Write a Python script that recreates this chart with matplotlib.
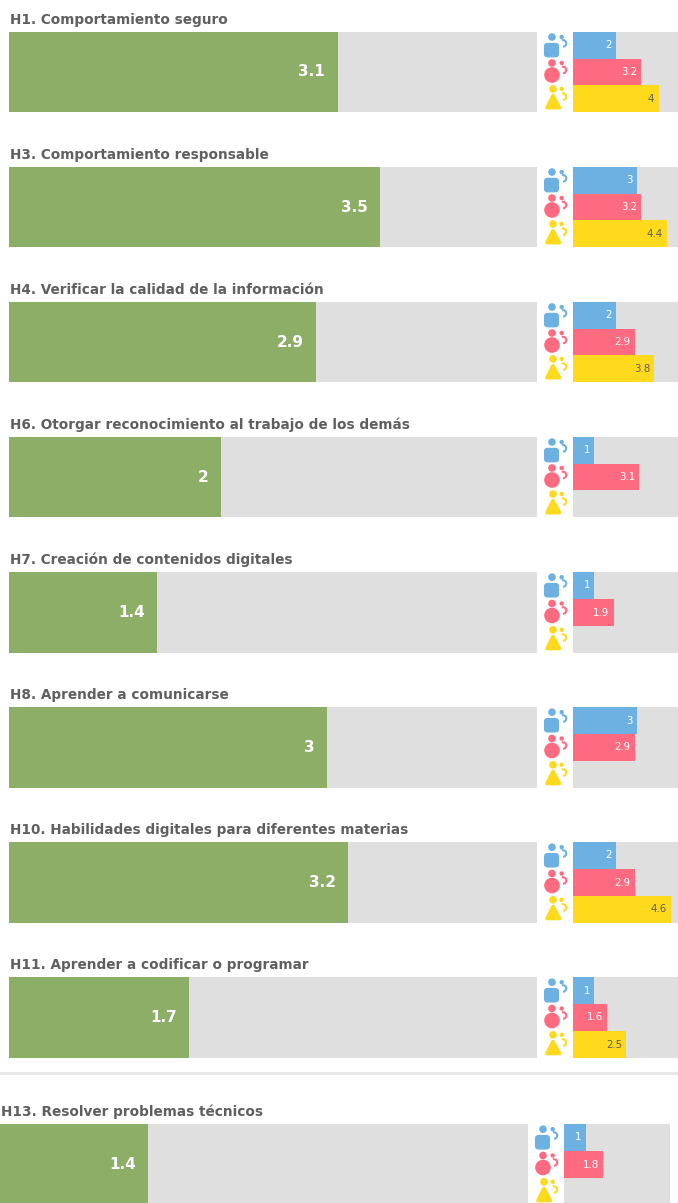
import matplotlib
matplotlib.use("Agg")
import matplotlib.pyplot as plt
from matplotlib.patches import Circle, FancyBboxPatch, Rectangle, Arc, Polygon

titles = ["H1. Comportamiento seguro", "H3. Comportamiento responsable",
          "H4. Verificar la calidad de la información",
          "H6. Otorgar reconocimiento al trabajo de los demás",
          "H7. Creación de contenidos digitales", "H8. Aprender a comunicarse",
          "H10. Habilidades digitales para diferentes materias",
          "H11. Aprender a codificar o programar", "H13. Resolver problemas técnicos"]
overall = [3.1, 3.5, 2.9, 2, 1.4, 3, 3.2, 1.7, 1.4]
overall_labels = ["3.1", "3.5", "2.9", "2", "1.4", "3", "3.2", "1.7", "1.4"]
blue = [2, 3, 2, 1, 1, 3, 2, 1, 1]
red = [3.2, 3.2, 2.9, 3.1, 1.9, 2.9, 2.9, 1.6, 1.8]
yellow = [4, 4.4, 3.8, None, None, None, 4.6, 2.5, None]

W, H = 678, 1203
GREEN, GREY = "#8cae66", "#dfdfdf"
BLUE, RED, YEL = "#6cb1e1", "#fe6a7f", "#fed91c"
TXT = "#5f5f5f"
plt.rcParams["font.family"] = ["DejaVu Sans"]

fig = plt.figure(figsize=(W / 100, H / 100), dpi=100, facecolor="white")

def make_ax(x0, x1, y0, y1):
    ax = fig.add_axes([x0 / W, 1 - y1 / H, (x1 - x0) / W, (y1 - y0) / H])
    ax.set_axis_off()
    ax.add_patch(Rectangle((0, 0), 1, 1, transform=ax.transAxes, fc=GREY, ec="none", zorder=0))
    return ax

overlay = fig.add_axes([0, 0, 1, 1], zorder=5)
overlay.set_xlim(0, W)
overlay.set_ylim(H, 0)
overlay.set_axis_off()

def person_icon(sl, c, color, shape):
    o = overlay
    head_y = {"square": c - 8.3, "circle": c - 9, "triangle": c - 9.7}[shape]
    head_x = sl - 20 if shape == "triangle" else sl - 21
    o.add_patch(Circle((head_x, head_y), 3.8, fc=color, ec="none"))
    o.add_patch(Circle((sl - 11.3, head_y), 2.2, fc=color, ec="none"))
    o.add_patch(Arc((sl - 10, c - 2), 6.5, 6.5, theta1=-110, theta2=90, ec=color, lw=1.5))
    if shape == "square":
        o.add_patch(FancyBboxPatch((sl - 28.5, c - 2), 14, 13.5, boxstyle="round,pad=0,rounding_size=3.2",
                                   fc=color, ec=color, lw=0.8))
    elif shape == "circle":
        o.add_patch(Circle((sl - 21, c + 3), 7.8, fc=color, ec="none"))
    else:
        o.add_patch(Polygon([[sl - 26, c + 9], [sl - 13.5, c + 9], [sl - 20, c - 3]],
                            closed=True, fc=color, ec=color, lw=2.6, joinstyle="round"))

tops = [32, 167, 302, 437, 572, 707, 842, 977, 1124]
bottoms = [112, 247, 382, 517, 653, 788, 923, 1058, 1205]
main_left = [9] * 8 + [0]
main_right = [537] * 8 + [528]
small_left = [573] * 8 + [564]
small_right = [678] * 8 + [670]

for i, title in enumerate(titles):
    top, bot = tops[i], bottoms[i]
    title_x = 10 if i < 8 else 1
    fig.text(title_x / W, 1 - (top - 12) / H, title, fontsize=9.8, fontweight="bold",
             color=TXT, ha="left", va="center")

    ax = make_ax(main_left[i], main_right[i], top, bot)
    ax.set_xlim(0, 4.98)
    ax.set_ylim(0, 1)
    ax.barh([0.5], [overall[i]], height=1, color=GREEN, zorder=2)
    ax.annotate(overall_labels[i], (overall[i], 0.5), xytext=(-9, 0), textcoords="offset points",
                ha="right", va="center", color="white", fontsize=11, fontweight="bold", zorder=3)

    sx = make_ax(small_left[i], small_right[i], top, bot)
    sx.set_xlim(0, 4.91)
    sx.set_ylim(3, 0)
    for row, (series, color) in enumerate(((blue, BLUE), (red, RED), (yellow, YEL))):
        value = series[i]
        if value is None:
            continue
        sx.barh([row + 0.5], [value], height=1, color=color, zorder=2)
        sx.annotate(f"{value:g}", (value, row + 0.5), xytext=(-3, 0), textcoords="offset points",
                    ha="right", va="center", fontsize=7.4, zorder=3,
                    color=TXT if color == YEL else "white")

    pitch = (bot - top) / 3
    person_icon(small_left[i], top + pitch * 0.5, BLUE, "square")
    person_icon(small_left[i], top + pitch * 1.5, RED, "circle")
    person_icon(small_left[i], top + pitch * 2.5, YEL, "triangle")

overlay.add_patch(Rectangle((0, 1072), W, 3, fc="#e6e6e6", ec="none"))

fig.savefig("out.png", dpi=100, facecolor="white")
